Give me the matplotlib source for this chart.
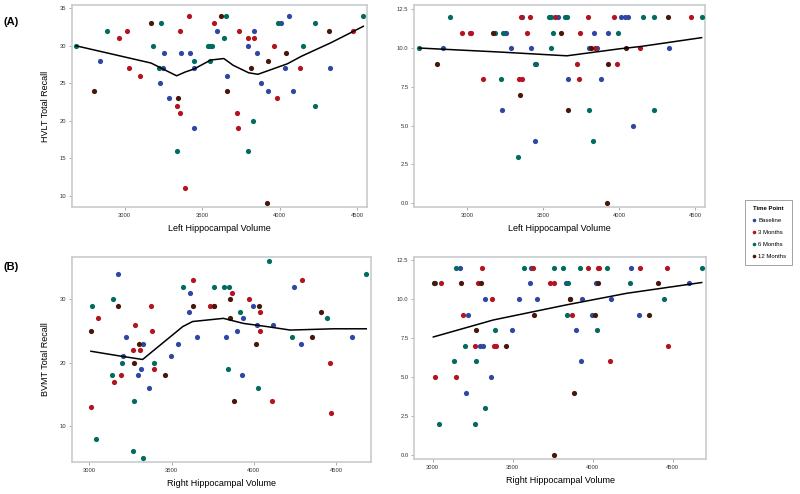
import matplotlib
matplotlib.use('Agg')
import matplotlib.pyplot as plt
import numpy as np

plt.rcParams['font.family'] = ['Liberation Sans', 'DejaVu Sans']

# time point codes: 0 baseline, 1 = 3 months, 2 = 6 months, 3 = 12 months
time_names = ['Baseline', '3 Months', '6 Months', '12 Months']
time_colors = ['#2f47a3', '#b3141f', '#006b5e', '#471708']

# top row: left hippocampal volume
left_vol = [2686, 2839, 2804, 2884, 2963, 3015, 3026, 3101, 3168, 3185,
            3237, 3224, 3252, 3247, 3228, 3288, 3335, 3344, 3340, 3355,
            3359, 3363, 3413, 3391, 3419, 3449, 3447, 3445, 3540, 3552,
            3563, 3551, 3578, 3596, 3619, 3656, 3641, 3660, 3662, 3738,
            3723, 3733, 3794, 3798, 3832, 3837, 3815, 3854, 3877, 3798,
            3826, 3963, 3927, 3927, 3983, 3916, 3991, 4011, 4058, 4041,
            4037, 4088, 4133, 4153, 4226, 4226, 4320, 4325, 4473, 4540]
hvlt = [30, 28, 24, 32, 31, 32, 27, 26, 33, 30,
        33, 27, 29, 27, 25, 23, 16, 23, 22, 32,
        21, 29, 34, 11, 29, 28, 27, 19, 30, 30,
        30, 28, 33, 32, 34, 34, 31, 26, 24, 32,
        21, 19, 31, 30, 32, 31, 27, 29, 25, 16,
        20, 30, 28, 24, 23, 9, 33, 33, 34, 29,
        27, 24, 27, 30, 33, 22, 32, 27, 32, 34]
hvlt_delay = [10, 10, 9, 12, 11, 11, 11, 8, 11, 11,
              11, 8, 11, 11, 6, 10, 3, 7, 8, 12,
              8, 12, 12, 11, 10, 9, 9, 4, 12, 10,
              11, 12, 12, 12, 11, 12, 12, 8, 6, 11,
              9, 8, 12, 10, 11, 10, 10, 10, 8, 6,
              4, 12, 9, 11, 9, 0, 11, 12, 12, 10,
              12, 5, 10, 12, 12, 6, 12, 10, 12, 12]
left_time = [2, 0, 3, 2, 1, 1, 1, 1, 3, 2,
             2, 2, 0, 0, 0, 0, 2, 3, 1, 1,
             1, 0, 1, 1, 0, 2, 0, 0, 2, 2,
             2, 2, 1, 0, 3, 2, 2, 0, 3, 1,
             1, 1, 1, 0, 0, 1, 3, 0, 0, 2,
             2, 1, 3, 0, 1, 3, 2, 0, 0, 3,
             0, 0, 1, 2, 2, 2, 3, 0, 1, 2]

# bottom row: right hippocampal volume
right_vol = [3014, 3010, 3012, 3051, 3041, 3144, 3172, 3176, 3221, 3207,
             3199, 3136, 3148, 3191, 3280, 3264, 3270, 3302, 3308, 3328,
             3316, 3296, 3270, 3264, 3324, 3373, 3381, 3365, 3391, 3395,
             3460, 3497, 3541, 3568, 3628, 3612, 3608, 3630, 3653, 3732,
             3756, 3756, 3760, 3817, 3847, 3868, 3855, 3855, 3831, 3841,
             3880, 3898, 3918, 3932, 3926, 3969, 3993, 4022, 4034, 4036,
             4040, 4012, 4026, 4089, 4115, 4109, 4241, 4233, 4295, 4287,
             4354, 4411, 4443, 4464, 4468, 4599, 4683]
bvmt = [29, 25, 13, 27, 8, 30, 34, 29, 24, 21,
        20, 18, 17, 18, 26, 22, 20, 23, 22, 23,
        19, 18, 14, 6, 5, 29, 25, 16, 20, 19,
        18, 21, 23, 32, 33, 31, 28, 29, 24, 29,
        29, 32, 29, 32, 32, 31, 30, 27, 24, 19,
        14, 25, 28, 27, 18, 30, 29, 26, 29, 28,
        25, 23, 16, 36, 26, 14, 32, 24, 33, 23,
        24, 28, 27, 20, 12, 24, 34]
bvmt_delay = [11, 11, 5, 11, 2, 12, 12, 11, 9, 4,
              7, 6, 5, 9, 11, 7, 8, 11, 12, 10,
              7, 7, 6, 2, 3, 10, 7, 5, 8, 7,
              7, 8, 10, 12, 12, 12, 11, 9, 10, 11,
              11, 12, 0, 12, 11, 9, 10, 10, 11, 9,
              4, 8, 12, 10, 6, 12, 9, 11, 11, 12,
              12, 9, 8, 12, 10, 6, 12, 11, 12, 9,
              9, 11, 10, 12, 7, 11, 12]
right_time = [2, 3, 1, 1, 2, 2, 0, 3, 0, 0,
              2, 2, 1, 1, 1, 1, 3, 3, 1, 0,
              0, 0, 2, 2, 2, 1, 1, 0, 2, 1,
              3, 0, 0, 2, 1, 0, 0, 3, 0, 1,
              1, 2, 3, 2, 2, 1, 3, 3, 0, 2,
              3, 0, 2, 0, 0, 1, 0, 0, 3, 1,
              1, 3, 2, 2, 0, 1, 0, 2, 1, 0,
              3, 3, 2, 1, 1, 0, 2]

# smoothed trend lines
hvlt_fit_x = [2686, 3170, 3335, 3390, 3447, 3555, 3640, 3700, 3800, 3860, 4050, 4140, 4330, 4540]
hvlt_fit_y = [30.0, 27.7, 26.0, 26.5, 26.9, 28.1, 28.3, 27.4, 26.4, 26.2, 27.6, 28.6, 30.4, 32.6]
hvlt_delay_fit_x = [2686, 3200, 3655, 4000, 4140, 4540]
hvlt_delay_fit_y = [10.0, 9.75, 9.5, 9.95, 10.1, 10.67]
bvmt_fit_x = [3010, 3186, 3324, 3568, 3628, 3815, 3937, 4079, 4221, 4484, 4683]
bvmt_fit_y = [21.8, 21.05, 20.5, 25.7, 26.5, 27.0, 26.2, 25.7, 25.15, 25.35, 25.35]
bvmt_delay_fit_x = [3004, 3379, 3837, 4213, 4681]
bvmt_delay_fit_y = [7.56, 8.65, 9.62, 10.36, 11.05]


def panel(ax, x, y, t, fx, fy, xlim, ylim, yticks, yfmt, xlabel, ylabel=None):
    x = np.array(x)
    y = np.array(y)
    t = np.array(t)
    for k in range(4):
        m = t == k
        ax.scatter(x[m], y[m], s=14, color=time_colors[k], linewidths=0, zorder=3)
    ax.plot(fx, fy, '-', color='black', lw=1.1, zorder=4)
    ax.set_xlim(xlim)
    ax.set_ylim(ylim)
    ax.set_xticks([3000, 3500, 4000, 4500])
    ax.set_yticks(yticks)
    ax.set_yticklabels([yfmt.format(v) for v in yticks])
    ax.tick_params(labelsize=4.2, length=2, width=0.5, color='#888888',
                   labelcolor='#333333', pad=2)
    for s in ax.spines.values():
        s.set_color('#c8ccd0')
        s.set_linewidth(1.2)
    ax.set_xlabel(xlabel, fontsize=6.5, labelpad=5)
    if ylabel:
        ax.set_ylabel(ylabel, fontsize=6.5, labelpad=7)


fig = plt.figure(figsize=(8, 4.94), dpi=100)

ax1 = fig.add_axes([0.09, 0.581, 0.369, 0.409])
panel(ax1, left_vol, hvlt, left_time, hvlt_fit_x, hvlt_fit_y,
      (2660, 4565), (8.5, 35.45), [10, 15, 20, 25, 30, 35], '{:d}',
      'Left Hippocampal Volume', 'HVLT Total Recall')

ax2 = fig.add_axes([0.5175, 0.581, 0.364, 0.409])
panel(ax2, left_vol, hvlt_delay, left_time, hvlt_delay_fit_x, hvlt_delay_fit_y,
      (2650, 4564), (-0.25, 12.78), [0, 2.5, 5, 7.5, 10, 12.5], '{:.1f}',
      'Left Hippocampal Volume')

ax3 = fig.add_axes([0.09, 0.0648, 0.374, 0.415])
panel(ax3, right_vol, bvmt, right_time, bvmt_fit_x, bvmt_fit_y,
      (2895, 4713), (4.3, 36.7), [10, 20, 30], '{:d}',
      'Right Hippocampal Volume', 'BVMT Total Recall')

ax4 = fig.add_axes([0.5175, 0.0709, 0.365, 0.409])
panel(ax4, right_vol, bvmt_delay, right_time, bvmt_delay_fit_x, bvmt_delay_fit_y,
      (2883, 4708), (-0.26, 12.69), [0, 2.5, 5, 7.5, 10, 12.5], '{:.1f}',
      'Right Hippocampal Volume')

fig.text(0.005, 0.955, '(A)', fontsize=8, fontweight='bold', va='center')
fig.text(0.005, 0.46, '(B)', fontsize=8, fontweight='bold', va='center')

handles = [plt.Line2D([], [], ls='none', marker='o', ms=2.6, mew=0,
                      color=time_colors[k]) for k in range(4)]
leg = fig.legend(handles, time_names, loc='upper left',
                 bbox_to_anchor=(0.927, 0.601), fontsize=4.3,
                 title='Time Point', title_fontproperties={'size': 4.3, 'weight': 'bold'},
                 frameon=True, fancybox=False, handletextpad=0.3,
                 labelspacing=1.15, borderpad=1.0, handlelength=1.0)
leg.get_frame().set_edgecolor('#777777')
leg.get_frame().set_linewidth(0.6)

fig.savefig('out.png', dpi=100)
